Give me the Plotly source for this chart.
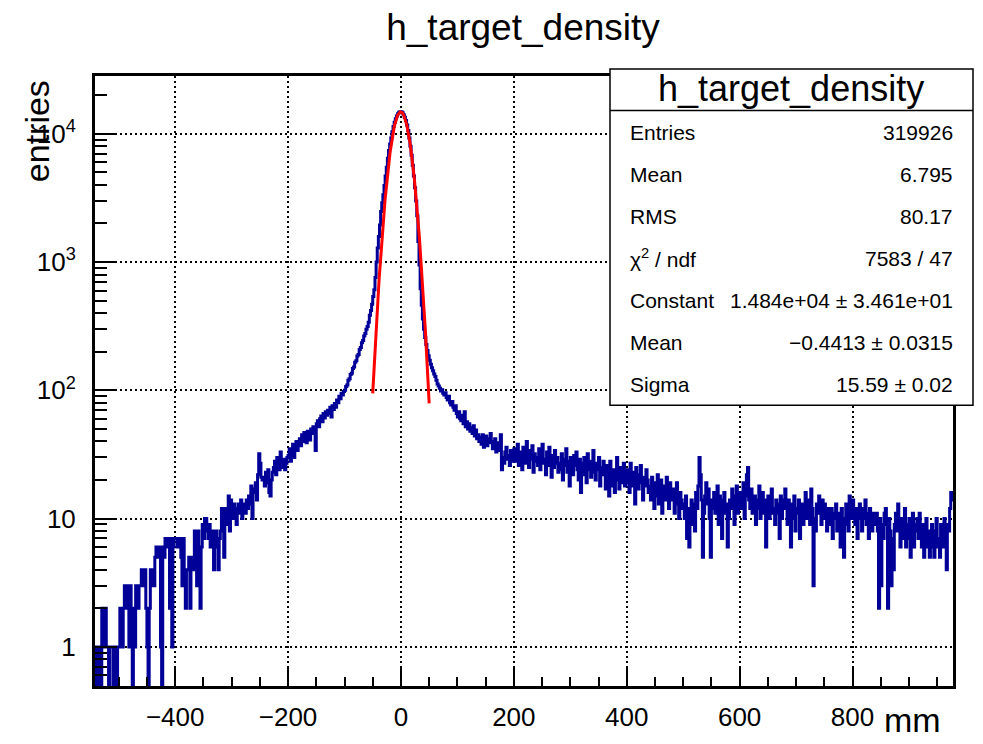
import numpy as np
import plotly.graph_objects as go

# ---------------------------------------------------------------
# h_target_density : 2 mm bins from -542 mm to 978 mm
# ---------------------------------------------------------------
x_low, bin_width = -542.0, 2.0

# bin contents, left tail -> peak -> right tail
counts_far_left = [0, 1, 0, 1, 1, 0, 2, 2, 1, 2, 1, 1, 0, 1, 1, 1, 0, 1, 1, 0, 1, 1,
                   2, 2, 1, 2, 3, 3, 2, 3, 1, 3, 2, 0, 2, 1, 3, 3, 2, 3, 3,
                   4, 4, 3, 4, 2, 1, 0, 2, 4, 3, 4, 3, 5, 6, 5, 6,
                   6, 1, 0, 6, 5, 7, 6, 7, 7, 2, 7, 1, 6, 7]
counts_left_1 = [7, 7, 6, 7, 7, 5, 3, 7, 4, 2, 4, 4, 5, 2, 5, 5, 4, 8, 8, 3, 8, 6,
                 2, 6, 9, 7, 10, 10, 8, 7, 9, 6, 6, 8, 4, 7, 8, 6, 4, 7, 8,
                 12, 11, 5, 12, 9, 11, 15, 8, 14]
counts_left_2 = [12, 10, 13, 11, 9, 12, 13, 11, 14, 10, 12, 13, 11, 14, 12,
                 15, 13, 18, 10, 16, 17, 19, 14, 22, 32, 27, 21, 20,
                 21, 18, 23, 19, 24, 16, 15, 20, 23,
                 25, 28, 22, 30, 26, 24, 33, 27, 25, 29, 24, 27, 30]
counts_left_3 = [31, 35, 28, 33, 38, 30, 36, 40, 34, 38,
                 42, 37, 45, 40, 47, 43, 39, 48, 44, 41,
                 50, 46, 52, 48, 34, 55, 58, 52, 60, 63, 57, 66, 61, 68, 64,
                 70, 66, 74, 62, 76, 71, 79, 74, 84, 80, 90, 86, 95, 92, 98]
counts_left_4 = [100, 107, 110, 120, 123, 133, 136, 148, 152, 166,
                 170, 185, 190, 208, 216, 235, 245, 265, 278, 300]
counts_peak = [315, 340, 385, 420, 470, 540, 610, 760, 1000, 1290,
               1580, 1950, 2480, 2900, 3350, 3950, 4700, 5500, 6450, 7400,
               8350, 9300, 10400, 11400, 12300, 13100, 13800, 14350, 14750, 14900,
               14850, 14600, 14100, 13450, 12700, 11700, 10600, 9300, 8000, 6800,
               5700, 4700, 3800, 3000, 2300, 1450, 950, 620, 460, 360,
               300, 258, 228, 205, 186, 172, 160, 150, 142, 134]
counts_right_1 = [128, 120, 112, 108, 104, 99, 101, 95, 92, 96,
                  88, 84, 90, 80, 77, 82, 74, 70, 76, 66,
                  62, 68, 60, 58, 64, 55, 68, 52, 57, 50,
                  55, 48, 51, 46, 53, 44, 49, 42, 45, 40,
                  43, 38, 45, 36, 41, 44, 37, 42, 39, 46,
                  40, 35, 38, 42, 33, 37, 39, 34, 45, 24,
                  30, 27, 33, 36, 29, 31, 26, 34, 28, 32]
counts_right_2 = [35, 28, 31, 38, 26, 33, 29, 24, 36, 30, 27, 40, 31, 25, 34, 29, 37, 23, 32, 28,
                  30, 26, 35, 24, 31, 38, 27, 29, 22, 33, 26, 36, 28, 21, 31, 25, 34, 27, 30, 23,
                  27, 24, 32, 20, 29, 26, 35, 23, 28, 18, 30, 25, 22, 31, 26, 33, 24, 20, 29, 16,
                  27, 22, 30, 25, 19, 32, 24, 28, 21, 26, 34, 23, 20, 27, 24, 30, 18, 25, 22, 28]
counts_right_3 = [22, 17, 26, 19, 15, 28, 21, 18, 24, 16, 20, 30, 23, 17, 25, 19, 22, 27, 18, 21,
                  24, 19, 16, 27, 21, 18, 23, 13, 25, 20, 17, 22, 26, 19, 14, 21, 18, 24, 20, 16,
                  18, 14, 21, 16, 12, 19, 15, 22, 13, 17, 20, 11, 16, 18, 14, 21, 15, 12, 19, 16,
                  14, 17, 11, 15, 19, 13, 10, 16, 14, 12]
counts_right_4 = [13, 10, 15, 7, 12, 6, 11, 14, 9, 13, 8, 16, 12, 18, 30, 22, 14, 5, 11, 15,
                  19, 13, 17, 10, 5, 14, 12, 16, 11, 13, 18, 9, 15, 12, 7, 14, 16, 11, 13, 6,
                  10, 14, 12, 17, 13, 9, 15, 18, 11, 14, 16, 12, 13, 19, 10, 15, 22, 25, 14, 12,
                  17, 11, 13, 15, 9, 14, 12, 18, 10, 13, 16, 11, 14, 6, 12, 15, 10, 13, 17, 11,
                  12, 9, 14, 11, 13, 7, 15, 10, 12, 14]
counts_right_5 = [17, 12, 9, 14, 11, 6, 13, 10, 15, 8, 12, 11, 14, 7, 10, 13, 9, 12, 16, 10,
                  11, 14, 9, 17, 12, 3, 10, 8, 13, 11, 15, 12, 9, 14, 10, 13, 11, 8, 12, 10,
                  9, 12, 7, 11, 10, 13, 8, 11, 9, 6, 12, 10, 5, 9, 13, 11, 8, 15, 12, 10,
                  14, 11, 9, 12, 7, 10, 13, 11, 8, 12, 10, 14, 9, 11, 7, 12, 10, 8, 11, 9]
counts_far_right = [9, 11, 8, 2, 10, 3, 9, 7, 11, 12, 9, 2, 10, 8, 3, 7, 4, 9, 11, 8,
                    13, 9, 6, 10, 7, 8, 12, 6, 9, 7, 10, 5, 8, 11, 6, 8, 9, 10, 7, 11,
                    8, 6, 9, 5, 7, 10, 6, 8, 5, 7, 9, 6, 5, 8, 10, 6, 7, 5, 9, 8,
                    6, 10, 7, 4, 9, 8, 12, 16, 14]

counts = np.array(counts_far_left + counts_left_1 + counts_left_2 + counts_left_3 +
                  counts_left_4 + counts_peak + counts_right_1 + counts_right_2 +
                  counts_right_3 + counts_right_4 + counts_right_5 + counts_far_right,
                  dtype=float)
edges = x_low + bin_width * np.arange(len(counts) + 1)
x_high = edges[-1]

# Gaussian fit result
fit_constant, fit_mean, fit_sigma = 1.484e4, -0.4413, 15.59
fit_range = (-50.0, 50.0)

# statistics box content
stats_title = "h_target_density"
stats_labels = ["Entries", "Mean", "RMS", "χ<sup>2</sup> / ndf", "Constant", "Mean", "Sigma"]
stats_values = ["319926", "6.795", "80.17", "7583 / 47",
                "1.484e+04 ± 3.461e+01", "−0.4413 ± 0.0315", "15.59 ± 0.02"]

y_log_range = [-0.305, 4.451]
x_major = 200
x_minor = 50

# ---------------------------------------------------------------
W, H = 983, 744
ML, MR, MT, MB = 95, 30, 76, 49
PW, PH = W - ML - MR, H - MT - MB


def px(x):
    return (x - ML) / PW


def py(y):
    return (H - MB - y) / PH


FONT = "Liberation Sans, Arial, Helvetica, sans-serif"
HIST_COLOR = "#000099"

# empty bins drop to the bottom of the frame on the log axis
plot_counts = np.where(counts > 0, counts, 1e-2)
step_y = np.append(plot_counts, plot_counts[-1])

fig = go.Figure()
fig.add_trace(go.Scatter(
    x=edges, y=step_y, mode="lines", line=dict(color=HIST_COLOR, width=3, shape="hv"),
    hoverinfo="skip", showlegend=False))

fx = np.linspace(fit_range[0], fit_range[1], 201)
fy = fit_constant * np.exp(-0.5 * ((fx - fit_mean) / fit_sigma) ** 2)
fig.add_trace(go.Scatter(
    x=fx, y=fy, mode="lines", line=dict(color="#ff0000", width=3),
    hoverinfo="skip", showlegend=False))

minor_y = [m * 10 ** d for d in range(-1, 5) for m in range(2, 10)]

fig.update_xaxes(
    range=[x_low, x_high], tickmode="linear", tick0=0, dtick=x_major,
    ticks="inside", ticklen=18, tickwidth=2, tickcolor="black",
    minor=dict(tickmode="linear", tick0=0, dtick=x_minor, ticks="inside",
               ticklen=9, tickwidth=2, tickcolor="black", showgrid=False),
    showgrid=True, gridcolor="black", gridwidth=1.5, griddash="2px,3px",
    showline=True, linecolor="black", linewidth=3, mirror=True,
    zeroline=False, tickfont=dict(family=FONT, size=26, color="black"),
    ticklabelstandoff=6)

fig.update_yaxes(
    type="log", range=y_log_range,
    tickmode="array", tickvals=[1, 10, 100, 1000, 10000],
    ticktext=["1", "10", "10<sup>2</sup>", "10<sup>3</sup>", "10<sup>4</sup>"],
    ticks="inside", ticklen=22, tickwidth=2, tickcolor="black",
    minor=dict(tickmode="array", tickvals=minor_y, ticks="inside",
               ticklen=12, tickwidth=2, tickcolor="black", showgrid=False),
    showgrid=True, gridcolor="black", gridwidth=1.5, griddash="2px,3px",
    showline=True, linecolor="black", linewidth=3, mirror=True,
    zeroline=False, tickfont=dict(family=FONT, size=26, color="black"),
    ticklabelstandoff=11)

shapes = [
    dict(type="rect", xref="paper", yref="paper", layer="above",
         x0=px(610), x1=px(973), y0=py(410), y1=py(69),
         line=dict(color="black", width=1.5), fillcolor="white"),
    dict(type="line", xref="paper", yref="paper", layer="above",
         x0=px(610), x1=px(973), y0=py(111), y1=py(111),
         line=dict(color="black", width=1.5)),
]

annotations = [
    dict(text=stats_title, x=px(791), y=py(89), xref="paper", yref="paper",
         xanchor="center", yanchor="middle", showarrow=False,
         font=dict(family=FONT, size=36, color="black")),
    dict(text="entries", x=px(37), y=py(132), xref="paper", yref="paper",
         xanchor="center", yanchor="middle", textangle=-90, showarrow=False,
         font=dict(family=FONT, size=34, color="black")),
    dict(text="mm", x=px(943), y=py(730), xref="paper", yref="paper",
         xanchor="right", yanchor="middle", showarrow=False,
         font=dict(family=FONT, size=34, color="black")),
]
row_y0, row_step = 133, 42.7
for i, (lab, val) in enumerate(zip(stats_labels, stats_values)):
    yy = row_y0 + i * row_step
    annotations.append(dict(text=lab, x=px(628), y=py(yy), xref="paper", yref="paper",
                            xanchor="left", yanchor="middle", showarrow=False,
                            font=dict(family=FONT, size=21, color="black")))
    annotations.append(dict(text=val, x=px(955), y=py(yy), xref="paper", yref="paper",
                            xanchor="right", yanchor="middle", showarrow=False,
                            font=dict(family=FONT, size=21, color="black")))

fig.update_layout(
    width=W, height=H, margin=dict(l=ML, r=MR, t=MT, b=MB),
    paper_bgcolor="white", plot_bgcolor="white",
    title=dict(text="h_target_density", x=523 / W, xanchor="center",
               y=1 - 27 / H, yanchor="middle", yref="container",
               font=dict(family=FONT, size=37, color="black")),
    shapes=shapes, annotations=annotations, showlegend=False)

fig.write_html("out.html")
